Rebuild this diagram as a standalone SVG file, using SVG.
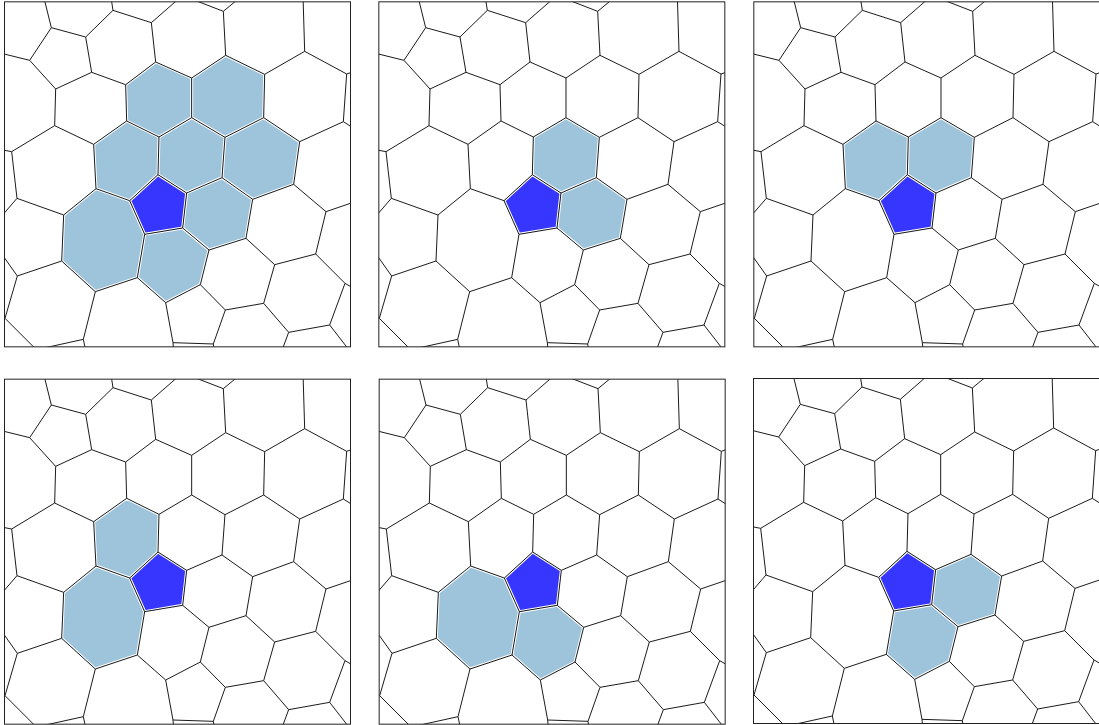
<svg xmlns="http://www.w3.org/2000/svg" xmlns:xlink="http://www.w3.org/1999/xlink" width="1099" height="725" viewBox="0 0 1099 725">
<style>
.edges{fill:none;stroke:#1a1a1a;stroke-width:3;stroke-linejoin:round}
.frame{fill:none;stroke:#222;stroke-width:3}
.lt{fill:#9ec4dc;stroke:none}
.dk{fill:#3636ff;stroke:none}
.band{fill:none;stroke:#fff;stroke-width:9}
</style>
<defs>
<polygon id="cP" points="486,538 572,593 560,698 446,717 401,616"/>
<polygon id="cA" points="389,268 479,200 587,248 587,367 489,425 392,377"/>
<polygon id="cB" points="587,248 689,180 806,237 803,367 687,426 587,367"/>
<polygon id="cC" points="293,447 392,377 489,425 486,538 401,616 300,580"/>
<polygon id="cD" points="489,425 587,367 687,426 678,547 572,593 486,538"/>
<polygon id="cE" points="687,426 803,367 911,439 893,567 770,612 678,547"/>
<polygon id="cF" points="572,593 678,547 770,612 750,729 639,764 560,698"/>
<polygon id="cG" points="300,580 401,616 446,717 424,847 298,889 197,797 203,659"/>
<polygon id="cH" points="446,717 560,698 639,764 613,868 509,922 424,847"/>
<clipPath id="kP"><use xlink:href="#cP"/></clipPath>
<clipPath id="kA"><use xlink:href="#cA"/></clipPath>
<clipPath id="kB"><use xlink:href="#cB"/></clipPath>
<clipPath id="kC"><use xlink:href="#cC"/></clipPath>
<clipPath id="kD"><use xlink:href="#cD"/></clipPath>
<clipPath id="kE"><use xlink:href="#cE"/></clipPath>
<clipPath id="kF"><use xlink:href="#cF"/></clipPath>
<clipPath id="kG"><use xlink:href="#cG"/></clipPath>
<clipPath id="kH"><use xlink:href="#cH"/></clipPath>
<clipPath id="box"><rect x="25.5" y="19.5" width="1038" height="1035"/></clipPath>
<path id="edges" d="
M166,97 L142,0 M166,97 L269,125 M166,97 L101,195 M101,195 L0,170 M101,195 L179,281
M269,125 L351,45 M269,125 L287,231 M351,45 L344,0 M351,45 L466,82 M466,82 L560,0 M466,82 L479,200
M287,231 L179,281 M287,231 L389,268 M389,268 L479,200 M389,268 L392,377 M479,200 L587,248
M587,248 L689,180 M587,248 L587,367 M682,48 L558,0 M682,48 L740,0 M682,48 L689,180
M689,180 L806,237 M806,237 L926,168 M806,237 L803,367 M926,168 L921,0 M926,168 L1052,236
M1052,236 L1075,228 M1052,236 L1042,379 M1042,379 L1075,400 M1042,379 L911,439
M179,281 L176,391 M176,391 L47,469 M176,391 L293,447 M47,469 L0,460 M47,469 L63,609
M63,609 L0,682 M63,609 L203,659 M293,447 L392,377 M293,447 L300,580 M392,377 L489,425
M489,425 L587,367 M489,425 L486,538 M587,367 L687,426 M687,426 L803,367 M687,426 L678,547
M803,367 L911,439 M911,439 L893,567
M300,580 L203,659 M300,580 L401,616 M486,538 L401,616 M486,538 L572,593 M678,547 L572,593
M678,547 L770,612 M893,567 L770,612 M893,567 L990,649 M203,659 L197,797 M401,616 L446,717
M572,593 L560,698 M560,698 L446,717 M560,698 L639,764 M446,717 L424,847 M770,612 L750,729
M750,729 L639,764 M750,729 L836,808 M639,764 L613,868 M990,649 L1075,620 M990,649 L959,776
M613,868 L509,922 M613,868 L688,944 M509,922 L424,847 M509,922 L531,1042 M424,847 L298,889
M298,889 L197,797 M298,889 L262,1032 M197,797 L64,842 M64,842 L10,766 M64,842 L27,969
M27,969 L0,942 M27,969 L123,1065 M262,1032 L269,1065 M262,1032 L112,1065
M531,1042 L652,1046 M531,1042 L533,1065 M652,1046 L688,944 M652,1046 L655,1065
M688,944 L803,924 M803,924 L836,808 M803,924 L878,1011 M836,808 L959,776 M878,1011 L1001,989
M878,1011 L858,1065 M1001,989 L1047,864 M1001,989 L1060,1065 M959,776 L1047,864 M1047,864 L1075,880"/>
</defs>

<g id="panel1" transform="translate(-4,-4.67) scale(0.333333)">
<g clip-path="url(#box)">
<g id="p1-cells">
<use xlink:href="#cA" class="lt"/><use xlink:href="#cA" class="band" clip-path="url(#kA)"/>
<use xlink:href="#cB" class="lt"/><use xlink:href="#cB" class="band" clip-path="url(#kB)"/>
<use xlink:href="#cC" class="lt"/><use xlink:href="#cC" class="band" clip-path="url(#kC)"/>
<use xlink:href="#cD" class="lt"/><use xlink:href="#cD" class="band" clip-path="url(#kD)"/>
<use xlink:href="#cE" class="lt"/><use xlink:href="#cE" class="band" clip-path="url(#kE)"/>
<use xlink:href="#cF" class="lt"/><use xlink:href="#cF" class="band" clip-path="url(#kF)"/>
<use xlink:href="#cG" class="lt"/><use xlink:href="#cG" class="band" clip-path="url(#kG)"/>
<use xlink:href="#cH" class="lt"/><use xlink:href="#cH" class="band" clip-path="url(#kH)"/>
<use xlink:href="#cP" class="dk"/><use xlink:href="#cP" class="band" clip-path="url(#kP)"/>
</g>
<g id="p1-edges"><use xlink:href="#edges" class="edges"/></g>
</g>
<rect class="frame" x="25.5" y="19.5" width="1038" height="1035"/>
</g>

<g id="panel2" transform="translate(370.33,-4.67) scale(0.333333)">
<g clip-path="url(#box)">
<g id="p2-cells">
<use xlink:href="#cD" class="lt"/><use xlink:href="#cD" class="band" clip-path="url(#kD)"/>
<use xlink:href="#cF" class="lt"/><use xlink:href="#cF" class="band" clip-path="url(#kF)"/>
<use xlink:href="#cP" class="dk"/><use xlink:href="#cP" class="band" clip-path="url(#kP)"/>
</g>
<g id="p2-edges"><use xlink:href="#edges" class="edges"/></g>
</g>
<rect class="frame" x="25.5" y="19.5" width="1038" height="1035"/>
</g>

<g id="panel3" transform="translate(745.33,-4.67) scale(0.333333)">
<g clip-path="url(#box)">
<g id="p3-cells">
<use xlink:href="#cC" class="lt"/><use xlink:href="#cC" class="band" clip-path="url(#kC)"/>
<use xlink:href="#cD" class="lt"/><use xlink:href="#cD" class="band" clip-path="url(#kD)"/>
<use xlink:href="#cP" class="dk"/><use xlink:href="#cP" class="band" clip-path="url(#kP)"/>
</g>
<g id="p3-edges"><use xlink:href="#edges" class="edges"/></g>
</g>
<rect class="frame" x="25.5" y="19.5" width="1038" height="1035"/>
</g>

<g id="panel4" transform="translate(-4,372.67) scale(0.333333)">
<g clip-path="url(#box)">
<g id="p4-cells">
<use xlink:href="#cC" class="lt"/><use xlink:href="#cC" class="band" clip-path="url(#kC)"/>
<use xlink:href="#cG" class="lt"/><use xlink:href="#cG" class="band" clip-path="url(#kG)"/>
<use xlink:href="#cP" class="dk"/><use xlink:href="#cP" class="band" clip-path="url(#kP)"/>
</g>
<g id="p4-edges"><use xlink:href="#edges" class="edges"/></g>
</g>
<rect class="frame" x="25.5" y="19.5" width="1038" height="1035"/>
</g>

<g id="panel5" transform="translate(370.67,372.67) scale(0.333333)">
<g clip-path="url(#box)">
<g id="p5-cells">
<use xlink:href="#cG" class="lt"/><use xlink:href="#cG" class="band" clip-path="url(#kG)"/>
<use xlink:href="#cH" class="lt"/><use xlink:href="#cH" class="band" clip-path="url(#kH)"/>
<use xlink:href="#cP" class="dk"/><use xlink:href="#cP" class="band" clip-path="url(#kP)"/>
</g>
<g id="p5-edges"><use xlink:href="#edges" class="edges"/></g>
</g>
<rect class="frame" x="25.5" y="19.5" width="1038" height="1035"/>
</g>

<g id="panel6" transform="translate(745,372) scale(0.333333)">
<g clip-path="url(#box)">
<g id="p6-cells">
<use xlink:href="#cF" class="lt"/><use xlink:href="#cF" class="band" clip-path="url(#kF)"/>
<use xlink:href="#cH" class="lt"/><use xlink:href="#cH" class="band" clip-path="url(#kH)"/>
<use xlink:href="#cP" class="dk"/><use xlink:href="#cP" class="band" clip-path="url(#kP)"/>
</g>
<g id="p6-edges"><use xlink:href="#edges" class="edges"/></g>
</g>
<rect class="frame" x="25.5" y="19.5" width="1038" height="1035"/>
</g>
</svg>
